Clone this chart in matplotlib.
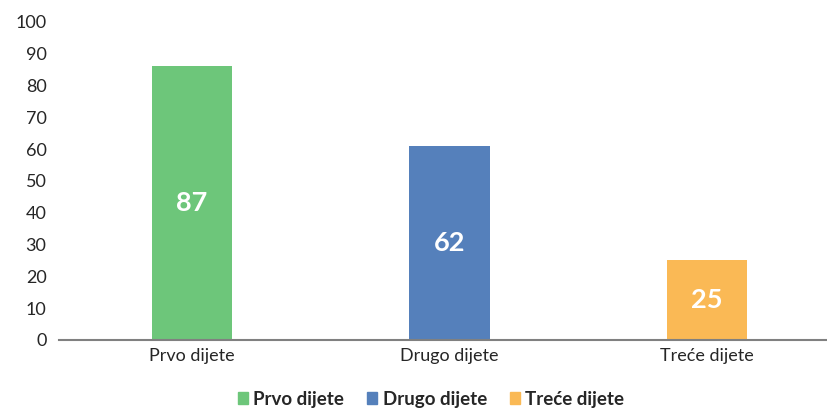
import matplotlib
matplotlib.use("Agg")
import matplotlib.pyplot as plt
from matplotlib.patches import Patch

categories = ["Prvo dijete", "Drugo dijete", "Treće dijete"]
heights = [86, 61, 25]          # bar heights as drawn
labels = ["87", "62", "25"]     # data labels as printed
colors = ["#6DC67A", "#5580BB", "#FAB955"]
yticks = list(range(0, 101, 10))

plt.rcParams["font.family"] = ["Lato", "DejaVu Sans"]
txt = "#262626"

fig = plt.figure(figsize=(8.27, 4.08), dpi=100)
ax = fig.add_axes([59 / 827, 68 / 408, 1 - 59 / 827, (340 - 21.7) / 408])

x = range(len(categories))
bars = ax.bar(x, heights, width=0.311, color=colors, zorder=2)
for b, lab in zip(bars, labels):
    ax.text(b.get_x() + b.get_width() / 2, b.get_height() / 2, lab,
            ha="center", va="center", color="white", fontsize=19.5, fontweight="bold")

ax.set_xlim(-0.5165, 2.466)
ax.set_ylim(0, 100)
ax.set_yticks(yticks)
ax.set_xticks(list(x))
ax.set_xticklabels(categories, fontsize=13, color=txt)
ax.tick_params(axis="y", length=0, labelsize=13, labelcolor=txt, pad=9)
ax.tick_params(axis="x", length=0, pad=6)
for s in ["top", "right", "left"]:
    ax.spines[s].set_visible(False)
ax.spines["bottom"].set_color("#808080")
ax.spines["bottom"].set_linewidth(1.5)

handles = [Patch(color=c, label=n) for c, n in zip(colors, categories)]
fig.legend(handles=handles, loc="center", bbox_to_anchor=(431 / 827, 1 - 399 / 408), ncol=3,
           frameon=False, handlelength=0.55, handleheight=0.55, handletextpad=0.3,
           columnspacing=1.2, prop={"size": 13.5, "weight": "bold"}, labelcolor=txt)

fig.savefig("out.png", dpi=100)
